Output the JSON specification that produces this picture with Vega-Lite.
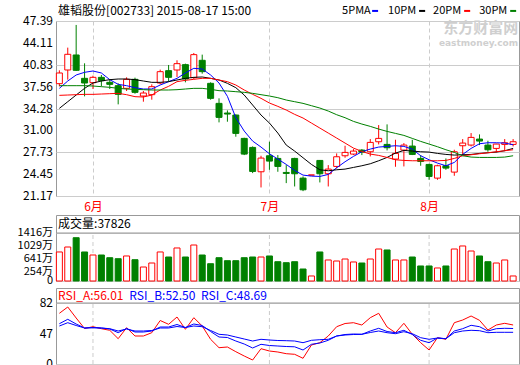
{
"$schema": "https://vega.github.io/schema/vega-lite/v6.json",
"padding": {"left": 17, "top": 4, "right": 0, "bottom": 0},
"config": {"font": "Noto Sans CJK SC", "view": {"stroke": "#999999", "strokeWidth": 1},
  "axis": {"labelFontSize": 12, "labelColor": "#000000", "domain": false, "ticks": false, "labelPadding": 3, "gridColor": "#cccccc", "labelFont": "Noto Sans CJK SC"},
  "scale": {"continuousPadding": 0}},
"datasets": {
"m": [{"i": 5}, {"i": 26}, {"i": 45}],
"k": [
{"i":1,"o":38.0,"c":39.6,"h":40.0,"l":37.6,"v":856,"5PMA":37.3,"10PM":34.3,"20PM":36.25,"30PM":37.7,"RSI_A":67.7,"RSI_B":57.3,"RSI_C":55},
{"i":2,"o":40.05,"c":42.4,"h":43.4,"l":38.6,"v":1003,"5PMA":38.4,"10PM":35.3,"20PM":36.3,"30PM":37.7,"RSI_A":74,"RSI_B":61.7,"RSI_C":58.3},
{"i":3,"o":42.3,"c":40.0,"h":46.8,"l":39.9,"v":1277,"5PMA":39.3,"10PM":36.3,"20PM":36.35,"30PM":37.7,"RSI_A":63,"RSI_B":57,"RSI_C":55.5},
{"i":4,"o":38.8,"c":38.1,"h":41.05,"l":36.1,"v":856,"5PMA":39.7,"10PM":37.3,"20PM":36.4,"30PM":37.7,"RSI_A":52.5,"RSI_B":53,"RSI_C":53},
{"i":5,"o":38.15,"c":38.95,"h":39.2,"l":37.2,"v":767,"5PMA":39.9,"10PM":38.1,"20PM":36.4,"30PM":37.65,"RSI_A":54.3,"RSI_B":53.5,"RSI_C":53.2},
{"i":6,"o":38.95,"c":38.45,"h":39.3,"l":37.6,"v":767,"5PMA":39.6,"10PM":38.4,"20PM":36.45,"30PM":37.55,"RSI_A":52.3,"RSI_B":53,"RSI_C":53},
{"i":7,"o":38.2,"c":37.9,"h":38.7,"l":37.2,"v":687,"5PMA":38.6,"10PM":38.6,"20PM":36.5,"30PM":37.45,"RSI_A":50.7,"RSI_B":52,"RSI_C":52.3},
{"i":8,"o":37.7,"c":36.4,"h":38.05,"l":34.9,"v":658,"5PMA":37.9,"10PM":38.7,"20PM":36.55,"30PM":37.3,"RSI_A":42.3,"RSI_B":48.3,"RSI_C":50},
{"i":9,"o":37.3,"c":38.65,"h":38.95,"l":36.9,"v":738,"5PMA":37.7,"10PM":38.7,"20PM":36.35,"30PM":37.2,"RSI_A":53.3,"RSI_B":52.5,"RSI_C":52},
{"i":10,"o":38.65,"c":36.7,"h":38.9,"l":36.5,"v":628,"5PMA":37.4,"10PM":38.6,"20PM":36.05,"30PM":37.15,"RSI_A":45,"RSI_B":49,"RSI_C":50},
{"i":11,"o":36.15,"c":36.6,"h":36.9,"l":35.3,"v":413,"5PMA":37.2,"10PM":38.4,"20PM":36.0,"30PM":37.1,"RSI_A":45,"RSI_B":49,"RSI_C":50},
{"i":12,"o":36.35,"c":37.55,"h":37.9,"l":35.6,"v":531,"5PMA":37.2,"10PM":38.2,"20PM":36.3,"30PM":37.05,"RSI_A":48.3,"RSI_B":50,"RSI_C":50.5},
{"i":13,"o":38.1,"c":39.8,"h":40.1,"l":37.9,"v":856,"5PMA":37.8,"10PM":38.2,"20PM":37.05,"30PM":37.05,"RSI_A":60.5,"RSI_B":54,"RSI_C":53},
{"i":14,"o":39.95,"c":38.95,"h":40.8,"l":38.3,"v":708,"5PMA":38.3,"10PM":38.3,"20PM":37.6,"30PM":37.05,"RSI_A":56.7,"RSI_B":54,"RSI_C":53},
{"i":15,"o":40.05,"c":41.0,"h":41.5,"l":39.0,"v":974,"5PMA":38.8,"10PM":38.55,"20PM":38.3,"30PM":37.1,"RSI_A":64,"RSI_B":56.5,"RSI_C":54.5},
{"i":16,"o":40.85,"c":38.7,"h":41.0,"l":38.2,"v":708,"5PMA":39.6,"10PM":38.8,"20PM":38.5,"30PM":37.2,"RSI_A":51.7,"RSI_B":53.5,"RSI_C":53.5},
{"i":17,"o":38.9,"c":42.35,"h":42.6,"l":38.7,"v":1062,"5PMA":40.3,"10PM":38.95,"20PM":38.65,"30PM":37.3,"RSI_A":63.3,"RSI_B":57,"RSI_C":55},
{"i":18,"o":41.5,"c":39.8,"h":42.35,"l":39.5,"v":767,"5PMA":40.2,"10PM":39.0,"20PM":38.8,"30PM":37.3,"RSI_A":55,"RSI_B":55.5,"RSI_C":54.3},
{"i":19,"o":38.05,"c":35.8,"h":38.2,"l":35.6,"v":510,"5PMA":39.3,"10PM":38.8,"20PM":38.8,"30PM":37.15,"RSI_A":41.7,"RSI_B":49.5,"RSI_C":50.5},
{"i":20,"o":35.05,"c":32.95,"h":35.8,"l":32.2,"v":687,"5PMA":38.1,"10PM":38.55,"20PM":38.55,"30PM":36.95,"RSI_A":33.3,"RSI_B":44,"RSI_C":46.7},
{"i":21,"o":33.6,"c":33.45,"h":34.0,"l":32.3,"v":599,"5PMA":36.1,"10PM":38.05,"20PM":38.3,"30PM":36.9,"RSI_A":34,"RSI_B":43.5,"RSI_C":46},
{"i":22,"o":33.3,"c":30.55,"h":33.4,"l":30.05,"v":599,"5PMA":32.9,"10PM":37.4,"20PM":37.8,"30PM":36.8,"RSI_A":29.3,"RSI_B":40,"RSI_C":44},
{"i":23,"o":29.8,"c":27.45,"h":29.9,"l":27.3,"v":687,"5PMA":30.9,"10PM":36.3,"20PM":37.05,"30PM":36.7,"RSI_A":25,"RSI_B":37,"RSI_C":42},
{"i":24,"o":28.45,"c":24.85,"h":28.6,"l":24.6,"v":708,"5PMA":29.4,"10PM":34.8,"20PM":36.4,"30PM":36.55,"RSI_A":21,"RSI_B":33,"RSI_C":40},
{"i":25,"o":24.8,"c":26.85,"h":27.2,"l":22.45,"v":708,"5PMA":28.5,"10PM":33.3,"20PM":35.8,"30PM":36.35,"RSI_A":32.3,"RSI_B":36.7,"RSI_C":41.7},
{"i":26,"o":27.2,"c":26.4,"h":29.3,"l":25.1,"v":738,"5PMA":27.5,"10PM":32.1,"20PM":35.1,"30PM":36.15,"RSI_A":30,"RSI_B":35.5,"RSI_C":41},
{"i":27,"o":26.8,"c":25.6,"h":27.3,"l":24.8,"v":569,"5PMA":26.7,"10PM":30.6,"20PM":34.6,"30PM":35.9,"RSI_A":29,"RSI_B":35,"RSI_C":40.5},
{"i":28,"o":24.7,"c":24.55,"h":25.8,"l":23.1,"v":540,"5PMA":25.9,"10PM":28.8,"20PM":34.05,"30PM":35.55,"RSI_A":27.3,"RSI_B":34.5,"RSI_C":40.3},
{"i":29,"o":26.8,"c":24.5,"h":26.9,"l":22.6,"v":569,"5PMA":25.0,"10PM":27.9,"20PM":33.4,"30PM":35.3,"RSI_A":26.7,"RSI_B":34.2,"RSI_C":40},
{"i":30,"o":23.85,"c":22.1,"h":24.1,"l":21.9,"v":354,"5PMA":24.3,"10PM":26.9,"20PM":32.85,"30PM":35.05,"RSI_A":22.7,"RSI_B":31,"RSI_C":38.3},
{"i":31,"o":24.31,"c":24.31,"h":24.31,"l":24.31,"v":148,"5PMA":24.15,"10PM":25.9,"20PM":32.1,"30PM":34.7,"RSI_A":36,"RSI_B":36.7,"RSI_C":40.7},
{"i":32,"o":26.5,"c":24.5,"h":26.55,"l":23.2,"v":856,"5PMA":24.1,"10PM":25.1,"20PM":31.35,"30PM":34.35,"RSI_A":38.3,"RSI_B":38,"RSI_C":41.3},
{"i":33,"o":24.5,"c":25.2,"h":25.8,"l":22.6,"v":620,"5PMA":24.4,"10PM":24.95,"20PM":30.6,"30PM":33.9,"RSI_A":45,"RSI_B":40.7,"RSI_C":41.7},
{"i":34,"o":25.6,"c":27.05,"h":27.55,"l":25.3,"v":590,"5PMA":25.4,"10PM":25.1,"20PM":29.85,"30PM":33.35,"RSI_A":54.3,"RSI_B":45,"RSI_C":45},
{"i":35,"o":27.2,"c":27.7,"h":28.7,"l":26.9,"v":649,"5PMA":26.3,"10PM":25.2,"20PM":29.1,"30PM":32.9,"RSI_A":57.5,"RSI_B":46.5,"RSI_C":46},
{"i":36,"o":27.45,"c":27.9,"h":28.2,"l":27.3,"v":561,"5PMA":27.1,"10PM":25.45,"20PM":28.35,"30PM":32.35,"RSI_A":58.3,"RSI_B":47,"RSI_C":46.5},
{"i":37,"o":28.05,"c":27.75,"h":28.2,"l":27.3,"v":531,"5PMA":27.8,"10PM":25.7,"20PM":27.85,"30PM":31.95,"RSI_A":56,"RSI_B":46.7,"RSI_C":46.7},
{"i":38,"o":27.8,"c":29.2,"h":29.7,"l":27.1,"v":649,"5PMA":28.2,"10PM":26.0,"20PM":27.45,"30PM":31.6,"RSI_A":63.3,"RSI_B":50,"RSI_C":48.5},
{"i":39,"o":29.3,"c":29.8,"h":31.8,"l":28.9,"v":944,"5PMA":28.5,"10PM":26.45,"20PM":27.25,"30PM":31.2,"RSI_A":67.7,"RSI_B":52.7,"RSI_C":50},
{"i":40,"o":28.9,"c":28.4,"h":31.9,"l":28.0,"v":915,"5PMA":28.6,"10PM":26.95,"20PM":26.95,"30PM":30.85,"RSI_A":54,"RSI_B":49.5,"RSI_C":48.3},
{"i":41,"o":26.7,"c":27.55,"h":29.6,"l":25.55,"v":620,"5PMA":28.7,"10PM":27.6,"20PM":26.6,"30PM":30.55,"RSI_A":48.3,"RSI_B":48.3,"RSI_C":47.3},
{"i":42,"o":28.05,"c":28.8,"h":29.1,"l":25.6,"v":620,"5PMA":28.6,"10PM":28.0,"20PM":26.5,"30PM":30.25,"RSI_A":57.7,"RSI_B":50.7,"RSI_C":49.3},
{"i":43,"o":28.65,"c":27.4,"h":29.6,"l":27.3,"v":708,"5PMA":28.2,"10PM":27.9,"20PM":26.45,"30PM":29.8,"RSI_A":46.7,"RSI_B":46.5,"RSI_C":47.3},
{"i":44,"o":26.8,"c":26.35,"h":27.3,"l":25.7,"v":443,"5PMA":27.2,"10PM":27.8,"20PM":26.45,"30PM":29.35,"RSI_A":38.3,"RSI_B":40.7,"RSI_C":43.3},
{"i":45,"o":25.9,"c":24.1,"h":26.0,"l":23.6,"v":443,"5PMA":26.6,"10PM":27.75,"20PM":26.45,"30PM":28.95,"RSI_A":31,"RSI_B":38.3,"RSI_C":41.7},
{"i":46,"o":23.85,"c":25.7,"h":25.85,"l":23.6,"v":384,"5PMA":26.1,"10PM":27.55,"20PM":26.45,"30PM":28.55,"RSI_A":43.3,"RSI_B":43,"RSI_C":43},
{"i":47,"o":25.7,"c":25.35,"h":26.8,"l":25.1,"v":443,"5PMA":25.7,"10PM":27.4,"20PM":26.5,"30PM":28.1,"RSI_A":41.7,"RSI_B":42.3,"RSI_C":42.3},
{"i":48,"o":24.75,"c":27.8,"h":28.1,"l":24.2,"v":944,"5PMA":26.2,"10PM":27.3,"20PM":26.8,"30PM":27.7,"RSI_A":58.3,"RSI_B":50,"RSI_C":48.3},
{"i":49,"o":28.7,"c":29.1,"h":29.7,"l":27.3,"v":1033,"5PMA":27.4,"10PM":27.35,"20PM":27.2,"30PM":27.2,"RSI_A":61,"RSI_B":52.3,"RSI_C":50},
{"i":50,"o":28.8,"c":29.95,"h":30.6,"l":28.6,"v":885,"5PMA":28.3,"10PM":27.4,"20PM":27.35,"30PM":27.0,"RSI_A":65,"RSI_B":55.7,"RSI_C":50.7},
{"i":51,"o":29.7,"c":29.4,"h":30.4,"l":28.8,"v":738,"5PMA":29.0,"10PM":27.55,"20PM":27.5,"30PM":26.95,"RSI_A":60.7,"RSI_B":54.3,"RSI_C":50.3},
{"i":52,"o":28.8,"c":28.1,"h":29.45,"l":27.8,"v":569,"5PMA":29.15,"10PM":27.65,"20PM":27.65,"30PM":26.95,"RSI_A":51,"RSI_B":50,"RSI_C":48.3},
{"i":53,"o":28.3,"c":28.95,"h":29.0,"l":27.7,"v":531,"5PMA":29.15,"10PM":27.75,"20PM":27.8,"30PM":26.95,"RSI_A":56,"RSI_B":52.3,"RSI_C":48.7},
{"i":54,"o":28.9,"c":29.15,"h":29.7,"l":27.9,"v":620,"5PMA":29.1,"10PM":27.95,"20PM":27.95,"30PM":27.0,"RSI_A":57.7,"RSI_B":52.7,"RSI_C":48.7},
{"i":55,"o":28.9,"c":29.3,"h":29.7,"l":28.6,"v":148,"5PMA":28.85,"10PM":28.3,"20PM":28.1,"30PM":27.2,"RSI_A":56.01,"RSI_B":52.5,"RSI_C":48.69}
]},
"bounds": "flush",
"spacing": 19,
"resolve": {"scale": {"color": "independent"}},
"vconcat": [
{
 "width": 463, "height": 175,
 "layer": [
  {"data": {"name": "k"}, "mark": {"type": "rule", "strokeWidth": 1},
   "encoding": {
    "x": {"field": "i", "type": "quantitative", "scale": {"domain": [0.6, 55.7], "nice": false, "zero": false, "padding": 0},
      "axis": {"title": null, "values": [5, 26, 45], "labelExpr": "datum.value == 5 ? '6月' : datum.value == 26 ? '7月' : '8月'", "labelColor": "#ff0000", "grid": true, "gridDash": [4, 3], "labelPadding": 5, "labelFontSize": 12, "labelDx": 3}},
    "y": {"field": "l", "type": "quantitative", "scale": {"domain": [21.17, 47.39], "nice": false, "zero": false, "padding": 0},
      "axis": {"title": null, "values": [21.17, 24.45, 27.73, 31.0, 34.28, 37.56, 40.83, 44.11, 47.39], "grid": true, "labels": false}},
    "y2": {"field": "h"},
    "stroke": {"condition": {"test": "datum.c >= datum.o", "value": "#ff0000"}, "value": "#008000"}
   }},
  {"data": {"name": "k"}, "mark": {"type": "bar", "size": 6, "strokeWidth": 1},
   "encoding": {
    "x": {"field": "i", "type": "quantitative"},
    "y": {"field": "o", "type": "quantitative"},
    "y2": {"field": "c"},
    "fill": {"condition": {"test": "datum.c >= datum.o", "value": "#ffffff"}, "value": "#008000"},
    "stroke": {"condition": {"test": "datum.c >= datum.o", "value": "#ff0000"}, "value": "#008000"}
   }},
  {"data": {"name": "k"}, "transform": [{"fold": ["5PMA", "10PM", "20PM", "30PM"], "as": ["ma", "val"]}],
   "mark": {"type": "line", "strokeWidth": 1},
   "encoding": {
    "x": {"field": "i", "type": "quantitative"},
    "y": {"field": "val", "type": "quantitative"},
    "color": {"field": "ma", "type": "nominal",
      "scale": {"domain": ["5PMA", "10PM", "20PM", "30PM"], "range": ["#0000ff", "#000000", "#ff0000", "#008000"]}, "legend": null}
   }},
  {"data": {"values": [{"t": 21.17}, {"t": 24.45}, {"t": 27.73}, {"t": 31.0}, {"t": 34.28}, {"t": 37.56}, {"t": 40.83}, {"t": 44.11}, {"t": 47.39}]},
   "mark": {"type": "text", "align": "right", "baseline": "middle", "dx": -3, "fontSize": 12, "color": "#000000"},
   "encoding": {"x": {"datum": 0.6}, "y": {"field": "t", "type": "quantitative"}, "text": {"field": "t", "type": "quantitative", "format": ".2f"}}},
  {"data": {"values": [{}]}, "mark": {"type": "text", "text": "雄韬股份[002733] 2015-08-17 15:00", "align": "left", "baseline": "middle", "fontSize": 12, "color": "#000000"},
   "encoding": {"x": {"datum": 0.85}, "y": {"datum": 48.9}}},
  {"data": {"values": [{}]}, "mark": {"type": "text", "text": "5PMA", "align": "left", "baseline": "middle", "fontSize": 11, "color": "#000000"},
   "encoding": {"x": {"datum": 34.65}, "y": {"datum": 48.9}}},
  {"data": {"values": [{}]}, "mark": {"type": "text", "text": "10PM", "align": "left", "baseline": "middle", "fontSize": 11, "color": "#000000"},
   "encoding": {"x": {"datum": 40.12}, "y": {"datum": 48.9}}},
  {"data": {"values": [{}]}, "mark": {"type": "text", "text": "20PM", "align": "left", "baseline": "middle", "fontSize": 11, "color": "#000000"},
   "encoding": {"x": {"datum": 45.48}, "y": {"datum": 48.9}}},
  {"data": {"values": [{}]}, "mark": {"type": "text", "text": "30PM", "align": "left", "baseline": "middle", "fontSize": 11, "color": "#000000"},
   "encoding": {"x": {"datum": 50.96}, "y": {"datum": 48.9}}},
  {"data": {"values": [{}]}, "mark": {"type": "rule", "strokeWidth": 2, "color": "#0000ff"},
   "encoding": {"x": {"datum": 38.22}, "x2": {"datum": 38.93}, "y": {"datum": 48.9}}},
  {"data": {"values": [{}]}, "mark": {"type": "rule", "strokeWidth": 2, "color": "#000000"},
   "encoding": {"x": {"datum": 43.81}, "x2": {"datum": 44.53}, "y": {"datum": 48.9}}},
  {"data": {"values": [{}]}, "mark": {"type": "rule", "strokeWidth": 2, "color": "#ff0000"},
   "encoding": {"x": {"datum": 49.17}, "x2": {"datum": 49.89}, "y": {"datum": 48.9}}},
  {"data": {"values": [{}]}, "mark": {"type": "rule", "strokeWidth": 2, "color": "#008000"},
   "encoding": {"x": {"datum": 54.65}, "x2": {"datum": 55.36}, "y": {"datum": 48.9}}},
  {"data": {"values": [{}]}, "mark": {"type": "text", "text": "东方财富网", "align": "right", "baseline": "middle", "fontSize": 15, "fontWeight": "bold", "color": "#cfcfcf"},
   "encoding": {"x": {"datum": 55.6}, "y": {"datum": 46.35}}},
  {"data": {"values": [{}]}, "mark": {"type": "text", "text": "eastmoney.com", "align": "right", "baseline": "middle", "fontSize": 9, "fontWeight": "bold", "color": "#cfcfcf", "font": "DejaVu Sans"},
   "encoding": {"x": {"datum": 55.6}, "y": {"datum": 44.1}}}
 ]
},
{
 "bounds": "flush",
 "spacing": 7,
 "vconcat": [
  {
   "width": 463, "height": 66,
   "layer": [
    {"data": {"name": "m"}, "mark": {"type": "rule", "strokeDash": [4, 3], "color": "#cccccc"},
     "encoding": {
      "x": {"field": "i", "type": "quantitative", "scale": {"domain": [0.6, 55.7], "nice": false, "zero": false, "padding": 0}, "axis": null},
      "y": {"datum": 0, "type": "quantitative", "scale": {"domain": [0, 1947], "nice": false, "zero": false, "padding": 0},
        "axis": {"title": null, "values": [0, 254, 641, 1029, 1416], "grid": true, "labels": false}},
      "y2": {"datum": 1416}
     }},
    {"data": {"name": "k"}, "mark": {"type": "bar", "size": 6, "strokeWidth": 1},
     "encoding": {
      "x": {"field": "i", "type": "quantitative"},
      "y": {"field": "v", "type": "quantitative"},
      "y2": {"datum": 0},
      "fill": {"condition": {"test": "datum.c >= datum.o", "value": "#ffffff"}, "value": "#008000"},
      "stroke": {"condition": {"test": "datum.c >= datum.o", "value": "#ff0000"}, "value": "#008000"}
     }},
    {"data": {"values": [{"t": 0, "s": "0"}, {"t": 254, "s": "254万"}, {"t": 641, "s": "641万"}, {"t": 1029, "s": "1029万"}, {"t": 1416, "s": "1416万"}]},
     "mark": {"type": "text", "align": "right", "baseline": "middle", "dx": -3, "fontSize": 11, "color": "#000000"},
     "encoding": {"x": {"datum": 0.6}, "y": {"field": "t", "type": "quantitative"}, "text": {"field": "s"}}},
    {"data": {"values": [{}]}, "mark": {"type": "rule", "color": "#999999"}, "encoding": {"y": {"datum": 1416}}},
    {"data": {"values": [{}]}, "mark": {"type": "text", "text": "成交量:37826", "align": "left", "baseline": "middle", "fontSize": 12, "color": "#000000"},
     "encoding": {"x": {"datum": 0.85}, "y": {"datum": 1696}}}
   ]
  },
  {
   "width": 463, "height": 76,
   "layer": [
    {"data": {"name": "m"}, "mark": {"type": "rule", "strokeDash": [4, 3], "color": "#cccccc"},
     "encoding": {
      "x": {"field": "i", "type": "quantitative", "scale": {"domain": [0.6, 55.7], "nice": false, "zero": false, "padding": 0}, "axis": null},
      "y": {"datum": 17, "type": "quantitative", "scale": {"domain": [17, 93], "nice": false, "zero": false, "padding": 0},
        "axis": {"title": null, "values": [17, 47, 78], "grid": true, "labels": false}},
      "y2": {"datum": 78}
     }},
    {"data": {"name": "k"}, "transform": [{"fold": ["RSI_A", "RSI_B", "RSI_C"], "as": ["r", "rv"]}],
     "mark": {"type": "line", "strokeWidth": 1},
     "encoding": {
      "x": {"field": "i", "type": "quantitative"},
      "y": {"field": "rv", "type": "quantitative"},
      "color": {"field": "r", "type": "nominal", "scale": {"domain": ["RSI_A", "RSI_B", "RSI_C"], "range": ["#ff0000", "#0000ff", "#0000ff"]}, "legend": null}
     }},
    {"data": {"values": [{"t": 17, "s": "0"}, {"t": 47, "s": "47"}, {"t": 78, "s": "82"}]},
     "mark": {"type": "text", "align": "right", "baseline": "middle", "dx": -3, "fontSize": 12, "color": "#000000"},
     "encoding": {"x": {"datum": 0.6}, "y": {"field": "t", "type": "quantitative"}, "text": {"field": "s"}}},
    {"data": {"values": [{}]}, "mark": {"type": "rule", "color": "#999999"}, "encoding": {"y": {"datum": 78}}},
    {"data": {"values": [{}]}, "mark": {"type": "text", "text": "RSI_A:56.01", "align": "left", "baseline": "middle", "fontSize": 12, "color": "#ff0000"},
     "encoding": {"x": {"datum": 0.85}, "y": {"datum": 85.5}}},
    {"data": {"values": [{}]}, "mark": {"type": "text", "text": "RSI_B:52.50", "align": "left", "baseline": "middle", "fontSize": 12, "color": "#0000ff"},
     "encoding": {"x": {"datum": 9.33}, "y": {"datum": 85.5}}},
    {"data": {"values": [{}]}, "mark": {"type": "text", "text": "RSI_C:48.69", "align": "left", "baseline": "middle", "fontSize": 12, "color": "#0000ff"},
     "encoding": {"x": {"datum": 17.86}, "y": {"datum": 85.5}}}
   ]
  }
 ]
}
]
}
